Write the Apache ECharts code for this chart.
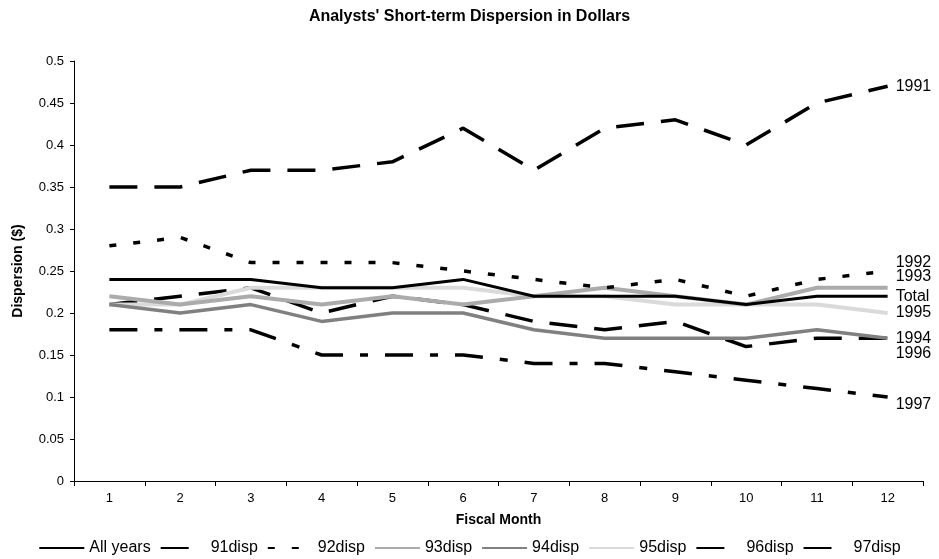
<!DOCTYPE html>
<html>
<head>
<meta charset="utf-8">
<script src="https://cdn.jsdelivr.net/npm/echarts@6/dist/echarts.min.js"></script>
<style>
  html, body { margin: 0; padding: 0; background: #fff; }
  #chart { width: 939px; height: 559px; }
</style>
</head>
<body>
<div id="chart"></div>
<script>
// fiscal months
const months = ['1', '2', '3', '4', '5', '6', '7', '8', '9', '10', '11', '12']

// dispersion by year
const allYears = [0.24, 0.24, 0.24, 0.23, 0.23, 0.24, 0.22, 0.22, 0.22, 0.21, 0.22, 0.22]
const disp91 = [0.35, 0.35, 0.37, 0.37, 0.38, 0.42, 0.37, 0.42, 0.43, 0.40, 0.45, 0.47]
const disp92 = [0.28, 0.29, 0.26, 0.26, 0.26, 0.25, 0.24, 0.23, 0.24, 0.22, 0.24, 0.25]
const disp93 = [0.22, 0.21, 0.22, 0.21, 0.22, 0.21, 0.22, 0.23, 0.22, 0.21, 0.23, 0.23]
const disp94 = [0.21, 0.20, 0.21, 0.19, 0.20, 0.20, 0.18, 0.17, 0.17, 0.17, 0.18, 0.17]
const disp95 = [0.21, 0.21, 0.23, 0.23, 0.23, 0.23, 0.22, 0.22, 0.21, 0.21, 0.21, 0.20]
const disp96 = [0.21, 0.22, 0.23, 0.20, 0.22, 0.21, 0.19, 0.18, 0.19, 0.16, 0.17, 0.17]
const disp97 = [0.18, 0.18, 0.18, 0.15, 0.15, 0.15, 0.14, 0.14, 0.13, 0.12, 0.11, 0.10]

const legendNames = ['All years', '91disp', '92disp', '93disp', '94disp', '95disp', '96disp', '97disp']
const endNames = ['Total', '1991', '1992', '1993', '1994', '1995', '1996', '1997']

const FONT = '"Liberation Sans", Arial, sans-serif'

// style per line: colour, width, dash, label y-offset
const styles = [
  { color: '#000000', width: 3, type: 'solid', dy: 0 },
  { color: '#000000', width: 3.5, type: [28, 17], dy: 0 },
  { color: '#000000', width: 3.5, type: [7, 17], dy: -8 },
  { color: '#ababab', width: 4, type: 'solid', dy: -11 },
  { color: '#808080', width: 3.5, type: 'solid', dy: 0 },
  { color: '#dadada', width: 4, type: 'solid', dy: 0 },
  { color: '#000000', width: 3.5, type: [28, 17], dy: 15 },
  { color: '#000000', width: 3.5, type: [28, 17, 8, 17], dy: 8 }
]

const dataArr = [allYears, disp91, disp92, disp93, disp94, disp95, disp96, disp97]

const series = dataArr.map((arr, i) => ({
  name: legendNames[i],
  type: 'line',
  data: arr,
  symbol: 'none',
  silent: true,
  lineStyle: { color: styles[i].color, width: styles[i].width, type: styles[i].type },
  itemStyle: { color: styles[i].color },
  endLabel: {
    show: true,
    formatter: endNames[i],
    offset: [0, styles[i].dy],
    color: '#000',
    fontSize: 16,
    fontFamily: FONT
  },
  z: 10 - i
}))

const chart = echarts.init(document.getElementById('chart'))

chart.setOption({
  animation: false,
  title: {
    text: "Analysts' Short-term Dispersion in Dollars",
    left: 'center',
    top: 4,
    textStyle: { fontSize: 16, fontWeight: 'bold', color: '#000', fontFamily: FONT }
  },
  legend: {
    data: legendNames,
    top: 535,
    left: 'center',
    itemWidth: 45,
    itemHeight: 4,
    itemGap: 9,
    itemStyle: { opacity: 0 },
    textStyle: { fontSize: 16, color: '#000', fontFamily: FONT }
  },
  grid: {
    left: 74,
    right: 16,
    top: 61,
    bottom: 78,
    containLabel: false,
    outerBoundsMode: 'none'
  },
  xAxis: {
    type: 'category',
    data: months,
    boundaryGap: true,
    name: 'Fiscal Month',
    nameLocation: 'middle',
    nameGap: 32,
    nameTextStyle: { fontSize: 14, fontWeight: 'bold', color: '#000', fontFamily: FONT },
    axisLine: { lineStyle: { color: '#000', width: 1 } },
    axisTick: { show: true, inside: false, length: 5, alignWithLabel: false, lineStyle: { color: '#000' } },
    axisLabel: { color: '#000', fontSize: 13, margin: 11, fontFamily: FONT },
    splitLine: { show: false }
  },
  yAxis: {
    type: 'value',
    min: 0,
    max: 0.5,
    interval: 0.05,
    name: 'Dispersion ($)',
    nameLocation: 'middle',
    nameGap: 49,
    nameRotate: 90,
    nameTextStyle: { fontSize: 14, fontWeight: 'bold', color: '#000', fontFamily: FONT },
    axisLine: { show: true, lineStyle: { color: '#000', width: 1 } },
    axisTick: { show: true, inside: false, length: 4, lineStyle: { color: '#000' } },
    axisLabel: { color: '#000', fontSize: 13, margin: 10, fontFamily: FONT },
    splitLine: { show: false }
  },
  series: series
})
</script>
</body>
</html>
